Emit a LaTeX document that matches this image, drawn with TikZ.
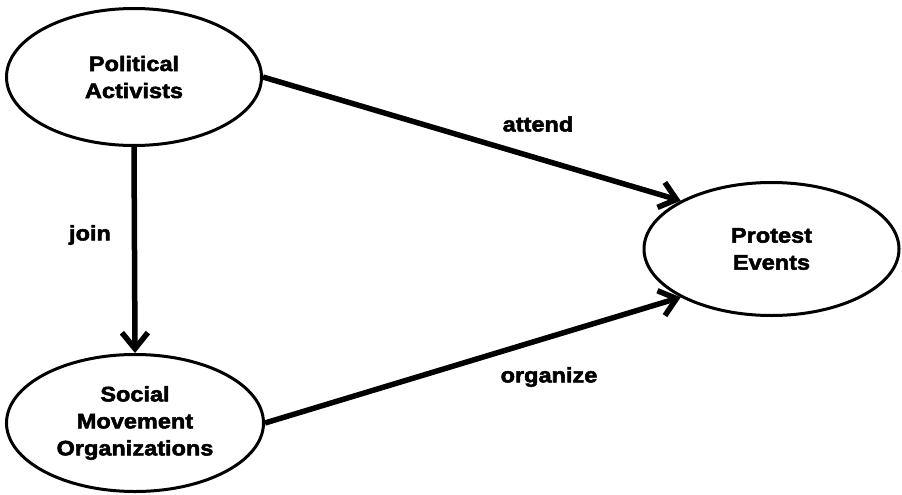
\documentclass[tikz,border=0pt]{standalone}
\usepackage{fontspec}
\setmainfont{Liberation Sans}[FakeStretch=1.12,BoldFeatures={FakeBold=2.5}]
\usetikzlibrary{shapes.geometric,arrows.meta}
\begin{document}
\begin{tikzpicture}[x=1pt,y=-1pt,
  ent/.style={ellipse,draw=black,line width=3pt,inner sep=0pt,align=center,
    font=\fontsize{21}{27}\selectfont\bfseries},
  rel/.style={draw=black,line width=5.5pt,-{Straight Barb[length=16pt,width=26pt,line width=5.5pt]}},
  lab/.style={font=\fontsize{21}{27}\selectfont\bfseries,inner sep=0pt}]
\useasboundingbox (0,0) rectangle (902,495);
\node[ent,minimum width=255pt,minimum height=137pt] (pa) at (134,77) {Political\\Activists};
\node[ent,minimum width=257pt,minimum height=137pt] (so) at (135,423) {Social\\Movement\\Organizations};
\node[ent,minimum width=255pt,minimum height=133pt] (pe) at (771.5,249) {Protest\\Events};
\draw[rel] (pa.south) -- (so.north);
\draw[rel] (pa.east) -- (pe.152);
\draw[rel] (so.east) -- (pe.208);
\node[lab] (l1) at (538,124) {attend};
\node[lab] (l2) at (549,377) {organize};
\node[lab] (l3) at (90,235) {join};
\end{tikzpicture}
\end{document}
